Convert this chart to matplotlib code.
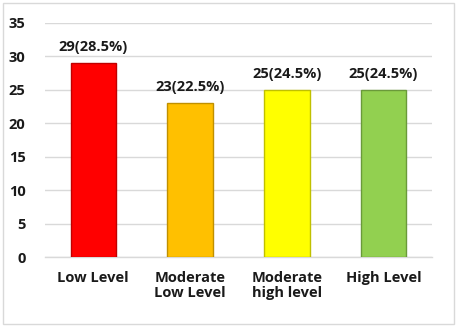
import matplotlib
matplotlib.use("Agg")
import matplotlib.pyplot as plt
from matplotlib.patches import Rectangle

categories = ["Low Level", "Moderate\nLow Level", "Moderate\nhigh level", "High Level"]
counts = [29, 23, 25, 25]
percents = [28.5, 22.5, 24.5, 24.5]
colors = ["#FF0000", "#FFC000", "#FFFF00", "#92D050"]
edges = ["#C00000", "#C09000", "#C0C000", "#6A9A3A"]
yticks = [0, 5, 10, 15, 20, 25, 30, 35]

plt.rcParams['font.family'] = ['Open Sans', 'DejaVu Sans']
fs = 10.5
fig = plt.figure(figsize=(4.58, 3.27), dpi=100)
fig.patches.append(Rectangle((0.006, 0.009), 0.985, 0.982, transform=fig.transFigure,
                             fill=False, edgecolor="#d9d9d9", linewidth=1))
ax = fig.add_axes([0.098, 0.214, 0.845, 0.716])
x = range(len(categories))
ax.bar(x, counts, width=0.47, color=colors, edgecolor=edges, linewidth=1, zorder=3)
for xi, c, p in zip(x, counts, percents):
    ax.text(xi, c + 1.3, f"{c}({p}%)", ha="center", va="bottom", fontsize=fs,
            fontweight="bold", color="#1a1a1a")
ax.set_ylim(0, 35)
ax.set_xlim(-0.5, 3.5)
ax.set_yticks(yticks)
ax.grid(axis="y", color="#d9d9d9", linewidth=1, zorder=0)
for s in ["top", "right", "left"]:
    ax.spines[s].set_visible(False)
ax.spines["bottom"].set_color("#d9d9d9")
ax.spines["bottom"].set_linewidth(1)
ax.set_xticks(list(x))
ax.set_xticklabels(categories, fontsize=fs, fontweight="bold", linespacing=1.1)
ax.tick_params(axis="both", length=0, labelsize=fs, colors="#1a1a1a")
for lbl in ax.get_yticklabels():
    lbl.set_fontweight("bold")
ax.tick_params(axis="y", pad=14)
ax.tick_params(axis="x", pad=10)
fig.savefig("out.png", dpi=100)
